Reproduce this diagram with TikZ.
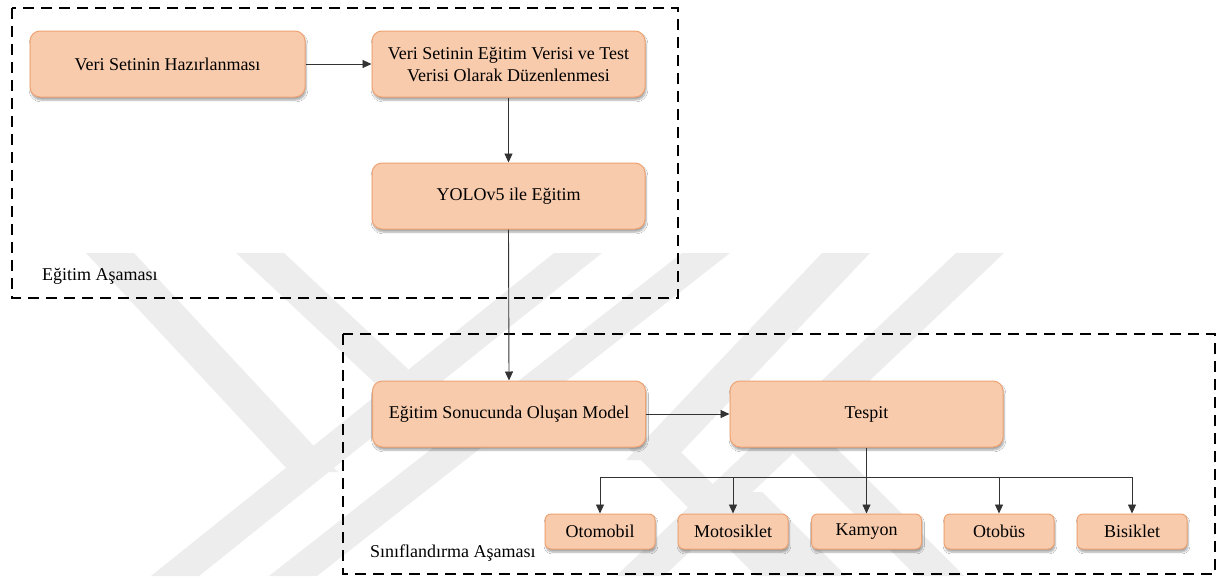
\documentclass[tikz,border=0pt]{standalone}
\usepackage{fontspec}
\setmainfont{Liberation Serif}
\usetikzlibrary{arrows.meta,shadows.blur}

\definecolor{boxfill}{HTML}{F8CBAD}
\definecolor{boxline}{HTML}{EFA272}
\definecolor{wirecol}{HTML}{333333}
\definecolor{markcol}{HTML}{EDEDED}

\tikzset{
  stage/.style={draw=boxline, fill=boxfill, line width=1pt, rounded corners=10pt,
    align=center, inner sep=0pt, font=\fontsize{18}{22}\selectfont,
    minimum width=273pt, minimum height=66pt,
    blur shadow={shadow xshift=1pt, shadow yshift=-3pt, shadow blur steps=6,
      shadow blur extra rounding=2pt, shadow opacity=35}},
  leaf/.style={stage, rounded corners=6pt, minimum width=110pt, minimum height=35pt},
  wire/.style={draw=wirecol, line width=0.9pt},
  arrow/.style={wire, -{Triangle[length=9pt,width=8pt]}},
  phase/.style={draw=black, line width=2.6pt, dash pattern=on 11pt off 7pt},
  phaselabel/.style={anchor=west, inner sep=0pt, font=\fontsize{18}{22}\selectfont},
}

% one slanted band of the background emblem, from (#1,#2) to (#3,#4)
\newcommand{\emblemband}[4]{%
  \fill[markcol] (#1-24,#2) -- (#1+24,#2) -- (#3+24,#4) -- (#3-24,#4) -- cycle;}

\begin{document}
\begin{tikzpicture}[x=1pt,y=-1pt]
\useasboundingbox (0,0) rectangle (1220,576);
\fill[white] (0,0) rectangle (1220,576);

% faint emblem behind the chart
\begin{scope}
  \clip (0,0) rectangle (1220,576);
  % rising bands
  \emblemband{578}{253}{175}{576}
  \emblemband{706}{253}{293}{576}
  \emblemband{846}{253}{650}{460}
  \emblemband{980}{253}{640}{576}
  % falling bands
  \emblemband{110}{253}{314}{472}
  \emblemband{260}{253}{463}{443}
  \emblemband{650}{445}{780}{576}
  \emblemband{794}{430}{940}{576}
  \emblemband{738}{492}{822}{576}
\end{scope}

% phase frames
\draw[phase] (12,8) rectangle (678,298);
\draw[phase] (343,334) rectangle (1215,574);
\node[phaselabel] (lbltrain) at (42,276) {Eğitim Aşaması};
\node[phaselabel] (lblclass) at (370,553) {Sınıflandırma Aşaması};

% training phase
\node[stage, minimum width=275pt] (prep) at (167.5,64) {Veri Setinin Hazırlanması};
\node[stage] (split) at (508.5,64) {Veri Setinin Eğitim Verisi ve Test\\Verisi Olarak Düzenlenmesi};
\node[stage] (train) at (508.5,196) {YOLOv5 ile Eğitim};

% classification phase
\node[stage] (model) at (509,414) {Eğitim Sonucunda Oluşan Model};
\node[stage] (detect) at (866.5,414) {Tespit};

\node[leaf] (car)   at (600,531.5)  {Otomobil};
\node[leaf] (moto)  at (733,531.5)  {Motosiklet};
\node[leaf] (truck) at (866.5,531.5){Kamyon};
\node[leaf] (bus)   at (999,531.5)  {Otobüs};
\node[leaf] (bike)  at (1132,531.5) {Bisiklet};

% connectors
\draw[arrow] (prep.east) -- (split.west);
\draw[arrow] (split.south) -- (train.north);
\draw[arrow] (train.south) -- (model.north);
\draw[arrow] (model.east) -- (detect.west);

\coordinate (fork) at (866.5,477);
\draw[wire] (detect.south) -- (fork);
\draw[arrow] (fork) -| (car.north);
\draw[arrow] (fork) -| (moto.north);
\draw[arrow] (fork) -- (truck.north);
\draw[arrow] (fork) -| (bus.north);
\draw[arrow] (fork) -| (bike.north);
\end{tikzpicture}
\end{document}
